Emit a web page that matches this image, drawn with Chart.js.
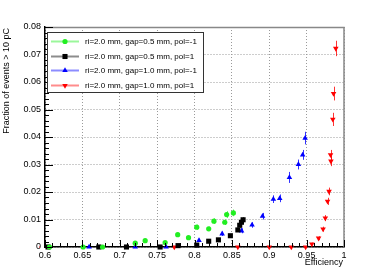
<!DOCTYPE html>
<html>
<head>
<meta charset="utf-8">
<script src="https://cdn.jsdelivr.net/npm/chart.js@4/dist/chart.umd.min.js"></script>
<style>
  html, body { margin: 0; padding: 0; background: #fff; }
</style>
</head>
<body>
<canvas id="effChart" width="381" height="275"></canvas>
<script>
// --- data ---
// gap=0.5 mm, pol=-1 (green circles)
var halfNegX = [0.606, 0.651, 0.677, 0.7207, 0.734, 0.7607, 0.7775, 0.792, 0.803, 0.819, 0.826, 0.8405, 0.843, 0.852];
var halfNegY = [0, 0, 0, 0.0014, 0.0023, 0.0016, 0.0045, 0.0034, 0.0072, 0.0066, 0.0094, 0.009, 0.0118, 0.0124];
var halfNegE = [0.0002, 0.0002, 0.0002, 0.0005, 0.0006, 0.0005, 0.0007, 0.0006, 0.0009, 0.0008, 0.001, 0.001, 0.0012, 0.0012];

// gap=0.5 mm, pol=1 (black squares)
var halfPosX = [0.604, 0.672, 0.709, 0.754, 0.778, 0.803, 0.819, 0.832, 0.848, 0.858, 0.8605, 0.8628, 0.865];
var halfPosY = [0, 0, 0, 0, 0.0005, 0.0007, 0.0021, 0.0026, 0.0041, 0.0062, 0.0079, 0.009, 0.0099];
var halfPosE = [0.0002, 0.0002, 0.0002, 0.0002, 0.0003, 0.0003, 0.0005, 0.0005, 0.0006, 0.0007, 0.0008, 0.0008, 0.0009];

// gap=1.0 mm, pol=-1 (blue triangles up)
var fullNegX = [0.659, 0.7207, 0.762, 0.806, 0.837, 0.863, 0.877, 0.891, 0.9055, 0.914, 0.927, 0.939, 0.9447, 0.948];
var fullNegY = [0, 0, 0, 0.0024, 0.0048, 0.0059, 0.008, 0.0112, 0.0174, 0.0177, 0.0253, 0.030, 0.0335, 0.0396];
var fullNegE = [0.0002, 0.0002, 0.0002, 0.0006, 0.0008, 0.0009, 0.001, 0.0012, 0.0014, 0.0014, 0.002, 0.0018, 0.0018, 0.0023];

// gap=1.0 mm, pol=1 (red triangles down)
var fullPosX = [0.592, 0.773, 0.858, 0.9, 0.9295, 0.9487, 0.957, 0.966, 0.972, 0.975, 0.978, 0.98, 0.9825, 0.982, 0.985, 0.986, 0.989];
var fullPosY = [0, 0, 0, 0, 0, 0, 0.0011, 0.0032, 0.0065, 0.0105, 0.0166, 0.0202, 0.0312, 0.0335, 0.0464, 0.0558, 0.0722];
var fullPosE = [0.0002, 0.0002, 0.0002, 0.0002, 0.0002, 0.0002, 0.0005, 0.0007, 0.0009, 0.0011, 0.0013, 0.0014, 0.0018, 0.0018, 0.0024, 0.0025, 0.0028];

var legendLabels = [
  'ri=2.0 mm, gap=0.5 mm, pol=-1',
  'ri=2.0 mm, gap=0.5 mm, pol=1',
  'ri=2.0 mm, gap=1.0 mm, pol=-1',
  'ri=2.0 mm, gap=1.0 mm, pol=1'
];
var xTitle = 'Efficiency';
var yTitle = 'Fraction of events > 10 pC';

var FONT = '"Liberation Sans", Arial, sans-serif';

function pts(xs, ys) {
  return xs.map(function(x, i) { return { x: x, y: ys[i] }; });
}

function series(label, xs, ys, errs, color, style, radius, rot) {
  return {
    label: label,
    data: pts(xs, ys),
    errors: errs,
    backgroundColor: color,
    borderColor: color,
    borderWidth: 0,
    pointStyle: style,
    pointRadius: radius,
    rotation: rot || 0,
    showLine: false,
    clip: false
  };
}

var datasets = [
  series(legendLabels[0], halfNegX, halfNegY, halfNegE, '#22ee22', 'circle', 2.6),
  series(legendLabels[1], halfPosX, halfPosY, halfPosE, '#000000', 'rect', 3.6),
  series(legendLabels[2], fullNegX, fullNegY, fullNegE, '#0000ff', 'triangle', 3.2),
  series(legendLabels[3], fullPosX, fullPosY, fullPosE, '#ff0000', 'triangle', 3.2, 180)
];

// error bars, minor ticks, frame, titles and legend box
var rootStyle = {
  id: 'rootStyle',
  beforeDatasetsDraw: function(chart) {
    var c = chart.ctx, xs = chart.scales.x, ys = chart.scales.y;
    c.save();
    chart.data.datasets.forEach(function(ds) {
      c.strokeStyle = ds.borderColor;
      c.globalAlpha = 0.8;
      c.lineWidth = 1;
      ds.data.forEach(function(p, i) {
        var e = ds.errors[i];
        var px = Math.round(xs.getPixelForValue(p.x)) + 0.5;
        c.beginPath();
        c.moveTo(px, ys.getPixelForValue(p.y - e));
        c.lineTo(px, ys.getPixelForValue(p.y + e));
        c.stroke();
      });
    });
    c.restore();
  },
  afterDraw: function(chart) {
    var c = chart.ctx, a = chart.chartArea, xs = chart.scales.x, ys = chart.scales.y;
    c.save();

    // frame top / right
    c.strokeStyle = '#888';
    c.lineWidth = 1.5;
    c.beginPath();
    c.moveTo(a.left, a.top + 0.5);
    c.lineTo(a.right, a.top + 0.5);
    c.lineTo(a.right, a.bottom);
    c.stroke();

    // ticks on x axis (pointing up)
    c.strokeStyle = '#000';
    c.lineWidth = 1;
    var v, px, i;
    for (i = 60; i <= 100; i++) {
      v = i / 100;
      px = Math.round(xs.getPixelForValue(v)) + 0.5;
      var len = (i % 5 === 0) ? 7 : 4;
      c.beginPath();
      c.moveTo(px, a.bottom);
      c.lineTo(px, a.bottom - len);
      c.stroke();
    }
    // ticks on y axis (pointing right)
    for (i = 0; i <= 40; i++) {
      v = i * 0.002;
      var py = Math.round(ys.getPixelForValue(v)) + 0.5;
      var ylen = (i % 5 === 0) ? 8 : 4;
      c.beginPath();
      c.moveTo(a.left, py);
      c.lineTo(a.left + ylen, py);
      c.stroke();
    }

    // axis titles
    c.fillStyle = '#000';
    c.font = '9px ' + FONT;
    c.textAlign = 'right';
    c.textBaseline = 'middle';
    c.fillText(xTitle, a.right - 1, 263);
    c.save();
    c.translate(7, a.top + 1);
    c.rotate(-Math.PI / 2);
    c.textAlign = 'right';
    c.fillText(yTitle, 0, 0);
    c.restore();

    // legend box
    var bx = 47, by = 32, bw = 156, bh = 60;
    c.fillStyle = '#fff';
    c.fillRect(bx, by, bw, bh);
    c.strokeStyle = '#333';
    c.lineWidth = 1;
    c.strokeRect(bx + 0.5, by + 0.5, bw, bh);
    c.font = '8px ' + FONT;
    c.textAlign = 'left';
    c.textBaseline = 'middle';
    chart.data.datasets.forEach(function(ds, k) {
      var ly = Math.round(41 + k * 14.5) + 0.5;
      c.save();
      c.globalAlpha = 0.45;
      c.strokeStyle = ds.borderColor;
      c.lineWidth = 2;
      c.beginPath();
      c.moveTo(51, ly);
      c.lineTo(79, ly);
      c.stroke();
      c.restore();
      c.fillStyle = ds.backgroundColor;
      Chart.helpers.drawPoint(c, {
        pointStyle: ds.pointStyle,
        radius: ds.pointRadius,
        rotation: ds.rotation,
        borderWidth: 0
      }, 65, ly);
      c.fillStyle = '#000';
      c.fillText(ds.label, 85, ly);
    });

    c.restore();
  }
};

function fmt(v) {
  var r = Math.round(v * 100) / 100;
  return r === 0 ? '0' : String(r);
}

new Chart(document.getElementById('effChart'), {
  type: 'scatter',
  data: { datasets: datasets },
  options: {
    responsive: false,
    animation: false,
    layout: { padding: { top: 27, right: 37, left: 0, bottom: 0 } },
    plugins: { legend: { display: false }, tooltip: { enabled: false } },
    scales: {
      x: {
        type: 'linear',
        min: 0.6,
        max: 1.0,
        afterFit: function(s) { s.height = 28; },
        ticks: {
          stepSize: 0.05,
          padding: 3,
          color: '#000',
          font: { family: FONT, size: 9 },
          maxRotation: 0,
          callback: fmt
        },
        grid: { color: '#9a9a9a', lineWidth: 1, drawTicks: false },
        border: { color: '#000', width: 1.5, dash: [1, 2] }
      },
      y: {
        type: 'linear',
        min: 0,
        max: 0.08,
        afterFit: function(s) { s.width = 45; },
        ticks: {
          stepSize: 0.01,
          padding: 4,
          color: '#000',
          font: { family: FONT, size: 9 },
          callback: fmt
        },
        grid: { color: '#9a9a9a', lineWidth: 1, drawTicks: false },
        border: { color: '#000', width: 1.5, dash: [1, 2] }
      }
    }
  },
  plugins: [rootStyle]
});
</script>
</body>
</html>
